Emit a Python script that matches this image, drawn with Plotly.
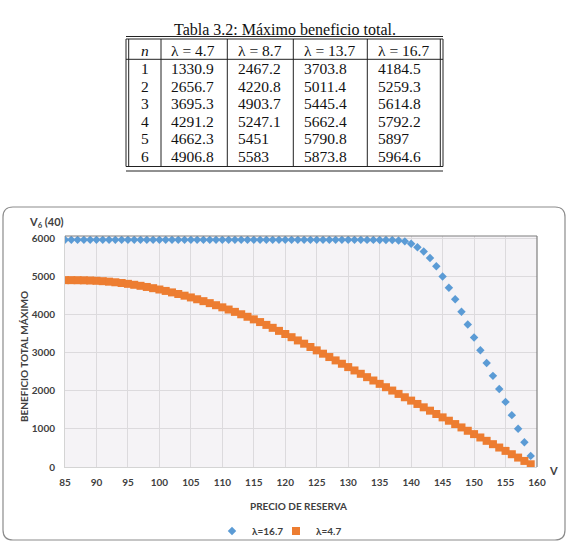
import plotly.graph_objects as go

# ---------------- Table data (Tabla 3.2) ----------------
table_title = "Tabla 3.2: Máximo beneficio total."
n_vals = ["1", "2", "3", "4", "5", "6"]
lam_headers = ["λ = 4.7", "λ = 8.7", "λ = 13.7", "λ = 16.7"]
col_l47 = [1330.9, 2656.7, 3695.3, 4291.2, 4662.3, 4906.8]
col_l87 = [2467.2, 4220.8, 4903.7, 5247.1, 5451, 5583]
col_l137 = [3703.8, 5011.4, 5445.4, 5662.4, 5790.8, 5873.8]
col_l167 = [4184.5, 5259.3, 5614.8, 5792.2, 5897, 5964.6]

# ---------------- Chart data ----------------
precio = [85, 86, 87, 88, 89, 90, 91, 92, 93, 94,
          95, 96, 97, 98, 99, 100, 101, 102, 103, 104,
          105, 106, 107, 108, 109, 110, 111, 112, 113, 114,
          115, 116, 117, 118, 119, 120, 121, 122, 123, 124,
          125, 126, 127, 128, 129, 130, 131, 132, 133, 134,
          135, 136, 137, 138, 139, 140, 141, 142, 143, 144,
          145, 146, 147, 148, 149, 150, 151, 152, 153, 154,
          155, 156, 157, 158, 159]

v6_l167 = [5964.6, 5964.6, 5964.6, 5964.6, 5964.6, 5964.6, 5964.6, 5964.6, 5964.6, 5964.6,
           5964.6, 5964.6, 5964.6, 5964.6, 5964.6, 5964.6, 5964.6, 5964.6, 5964.6, 5964.6,
           5964.6, 5964.6, 5964.6, 5964.6, 5964.6, 5964.6, 5964.6, 5964.6, 5964.6, 5964.6,
           5964.6, 5964.6, 5964.6, 5964.6, 5964.6, 5964.6, 5964.6, 5964.6, 5964.6, 5964.6,
           5964.6, 5964.6, 5964.6, 5964.6, 5964.6, 5964.6, 5964.5, 5964.4, 5964.2, 5963.9,
           5963.5, 5962.5, 5959.0, 5950.0, 5925.0, 5865.0, 5770.0, 5660.0, 5490.0, 5270.0,
           5000.0, 4708.0, 4405.0, 4075.0, 3740.0, 3403.0, 3065.0, 2730.0, 2393.0, 2048.0,
           1710.0, 1362.0, 1005.0, 650.0, 292.0]

v6_l47 = [4906.8, 4906.3, 4904.8, 4901.8, 4896.8, 4889.8, 4879.8, 4866.8, 4850.8, 4831.8,
          4809.8, 4784.8, 4757.8, 4727.8, 4695.8, 4660.8, 4623.8, 4584.8, 4542.8, 4498.8,
          4452.8, 4404.8, 4354.8, 4302.8, 4248.8, 4192.8, 4134.8, 4073.8, 4010.8, 3944.8,
          3876.8, 3805.8, 3731.8, 3654.8, 3574.8, 3492.8, 3408.8, 3323.8, 3237.8, 3150.8,
          3063.3, 2975.3, 2887.3, 2799.3, 2711.3, 2623.3, 2535.3, 2447.3, 2359.3, 2271.3,
          2183.3, 2095.3, 2007.3, 1919.3, 1831.3, 1743.3, 1655.3, 1567.3, 1479.3, 1391.3,
          1303.3, 1215.3, 1127.3, 1039.3, 951.3, 863.3, 775.3, 687.3, 599.3, 511.3,
          423.3, 335.3, 247.3, 159.3, 71.3]

x_ticks = [85, 90, 95, 100, 105, 110, 115, 120, 125, 130, 135, 140, 145, 150, 155, 160]
y_ticks = [0, 1000, 2000, 3000, 4000, 5000, 6000]

# ---------------- layout helpers (pixel -> paper) ----------------
W_FIG, H_FIG = 568, 542
L, R, T, B = 65, 537, 236, 467
PW, PH = R - L, B - T


def px(x):
    return (x - L) / PW


def py(y):
    return (B - y) / PH


TXT = "#404040"
SANS = "Lato"
SERIF = "Liberation Serif"

fig = go.Figure()
fig.add_trace(go.Scatter(
    x=precio, y=v6_l167, mode="markers", name="λ=16.7", legend="legend",
    marker=dict(symbol="diamond", size=6.5, color="#5B9BD5", line=dict(width=0)),
))
fig.add_trace(go.Scatter(
    x=precio, y=v6_l47, mode="markers", name="λ=4.7", legend="legend2",
    marker=dict(symbol="square", size=8, color="#ED7D31", line=dict(width=0)),
))

shapes = []
annotations = []

# chart outer rounded frame
x0, x1, y0, y1, rx = 3, 565, 207, 540, 10
path = (f"M {px(x0 + rx)},{py(y0)} L {px(x1 - rx)},{py(y0)} "
        f"Q {px(x1)},{py(y0)} {px(x1)},{py(y0 + rx)} "
        f"L {px(x1)},{py(y1 - rx)} Q {px(x1)},{py(y1)} {px(x1 - rx)},{py(y1)} "
        f"L {px(x0 + rx)},{py(y1)} Q {px(x0)},{py(y1)} {px(x0)},{py(y1 - rx)} "
        f"L {px(x0)},{py(y0 + rx)} Q {px(x0)},{py(y0)} {px(x0 + rx)},{py(y0)} Z")
shapes.append(dict(type="path", xref="paper", yref="paper", path=path,
                   line=dict(color="#8c8c8c", width=1.2), layer="below"))

# plot area top & right border (darker)
shapes.append(dict(type="line", xref="paper", yref="paper", x0=0, x1=1, y0=1, y1=1,
                   line=dict(color="#7f7f7f", width=1.2)))
shapes.append(dict(type="line", xref="paper", yref="paper", x0=1, x1=1, y0=0, y1=1,
                   line=dict(color="#7f7f7f", width=1.2)))


def hline(xa, xb, y, w=1.0):
    shapes.append(dict(type="line", xref="paper", yref="paper",
                       x0=px(xa), x1=px(xb), y0=py(y), y1=py(y),
                       line=dict(color="#222222", width=w)))


def vline(x, ya, yb, w=1.0):
    shapes.append(dict(type="line", xref="paper", yref="paper",
                       x0=px(x), x1=px(x), y0=py(ya), y1=py(yb),
                       line=dict(color="#222222", width=w)))


# table rules
TL, TR = 126, 443
hline(TL, TR, 36.5)
hline(TL, TR, 39)
hline(TL, TR, 59.3)
hline(TL, TR, 166.5)
hline(TL, TR, 171)
vline(126, 39, 166.5)
vline(128.7, 39, 166.5)
for xc in [161, 227.3, 293.3, 367.3]:
    vline(xc, 39, 166.5)
vline(440.3, 39, 166.5)
vline(443, 39, 166.5)

# table title
annotations.append(dict(xref="paper", yref="paper", x=px(285), y=py(29.5),
                        text=table_title, showarrow=False, xanchor="center", yanchor="middle",
                        font=dict(family=SERIF, size=16, color="#111111")))

col_x = [139, 169, 235.5, 301.5, 375.5]
header_y = 50
row_y = [68.3, 86, 103.5, 121.3, 139, 156.7]
headers = ["<i>n</i>"] + lam_headers
for cx, h in zip(col_x, headers):
    annotations.append(dict(xref="paper", yref="paper", x=px(cx), y=py(header_y), text=h,
                            showarrow=False, xanchor="left", yanchor="middle",
                            font=dict(family=SERIF, size=15.5, color="#111111")))
columns = [n_vals, col_l47, col_l87, col_l137, col_l167]
for cx, col in zip(col_x, columns):
    for ry, val in zip(row_y, col):
        txt = val if isinstance(val, str) else f"{val:g}"
        annotations.append(dict(xref="paper", yref="paper", x=px(cx), y=py(ry), text=txt,
                                showarrow=False, xanchor="left", yanchor="middle",
                                font=dict(family=SERIF, size=15.5, color="#111111")))

# chart texts
annotations.append(dict(xref="paper", yref="paper", x=px(27), y=py(222),
                        text="<b>V<sub>6</sub> (40)</b>", showarrow=False,
                        xanchor="left", yanchor="middle",
                        font=dict(family=SANS, size=11, color=TXT)))
annotations.append(dict(xref="paper", yref="paper", x=px(553), y=py(470),
                        text="<b>V</b>", showarrow=False, xanchor="center", yanchor="middle",
                        font=dict(family=SANS, size=11, color=TXT)))
annotations.append(dict(xref="paper", yref="paper", x=px(298), y=py(506),
                        text="<b>PRECIO DE RESERVA</b>", showarrow=False,
                        xanchor="center", yanchor="middle",
                        font=dict(family=SANS, size=10, color=TXT)))
annotations.append(dict(xref="paper", yref="paper", x=px(24), y=py(357),
                        text="<b>BENEFICIO TOTAL MÁXIMO</b>", showarrow=False, textangle=-90,
                        xanchor="center", yanchor="middle",
                        font=dict(family=SANS, size=10, color=TXT)))

legend_font = dict(family=SANS, size=10, color=TXT, weight="bold")
fig.update_layout(
    width=W_FIG, height=H_FIG,
    margin=dict(l=L, r=W_FIG - R, t=T, b=H_FIG - B, autoexpand=False),
    paper_bgcolor="white",
    plot_bgcolor="#f5f3f6",
    showlegend=True,
    legend=dict(orientation="h", x=px(212), y=py(531), xanchor="left", yanchor="middle",
                font=legend_font, bgcolor="rgba(0,0,0,0)", itemwidth=30,
                borderwidth=0),
    legend2=dict(orientation="h", x=px(276), y=py(531), xanchor="left", yanchor="middle",
                 font=legend_font, bgcolor="rgba(0,0,0,0)", itemwidth=30,
                 borderwidth=0),
    shapes=shapes,
    annotations=annotations,
    xaxis=dict(range=[85, 160], tickvals=x_ticks, showgrid=True, gridcolor="#dcdadd",
               gridwidth=1, zeroline=False, showline=True, linecolor="#d4d4d4",
               ticks="outside", ticklen=6, tickcolor="rgba(0,0,0,0)",
               tickfont=dict(family=SANS, size=10, color=TXT, weight="bold")),
    yaxis=dict(range=[0, 6066], tickvals=y_ticks, showgrid=True, gridcolor="#dcdadd",
               gridwidth=1, zeroline=False, showline=True, linecolor="#d4d4d4",
               ticks="outside", ticklen=7, tickcolor="rgba(0,0,0,0)",
               tickfont=dict(family=SANS, size=10, color=TXT, weight="bold")),
)

fig.write_html("out.html")
